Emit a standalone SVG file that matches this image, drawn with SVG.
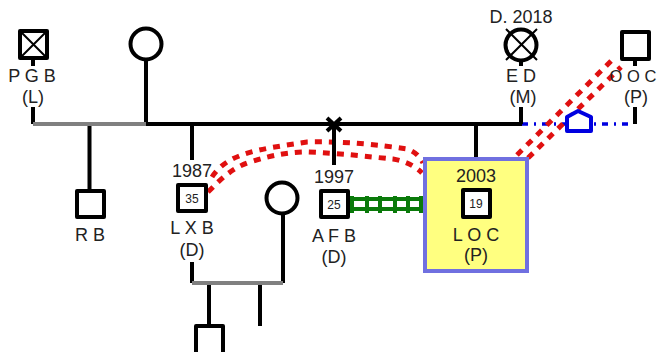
<svg xmlns="http://www.w3.org/2000/svg" width="658" height="352" viewBox="0 0 658 352">
<style>
text{font-family:"Liberation Sans",Arial,sans-serif;font-size:18px;fill:#222;text-anchor:middle}
.n{font-size:12px}
.o{font-size:16.500px}
.l{fill:none;stroke:#000;stroke-width:4}
.g{fill:none;stroke:#808080;stroke-width:4}
.s{fill:#fff;stroke:#000;stroke-width:4;stroke-linejoin:round}
.t{fill:none;stroke:#000;stroke-width:2}
.r{fill:none;stroke:#e01010;stroke-width:5;stroke-dasharray:7 7}
.gr{fill:none;stroke:#0a7a0a;stroke-width:4}
</style>
<g id="connectors">
<path d="M522 124H632" fill="none" stroke="#0000e0" stroke-width="3.500" stroke-dasharray="6 6 2 6"/>
<path class="r" d="M517 155L613 59M528 158L621 67"/>
<path class="r" d="M212 177C228 152 262 149 307 142C345 141 380 145 407 149C416 152 420 157 423 163"/>
<path class="r" d="M208 192C222 178 232 168 250 162C272 155 290 152 307 152C340 153 370 157 393 159C405 161 415 166 422 173"/>
<path class="gr" d="M349 199H423M349 209H423M352 196V213M367 196V213M380 196V213M395 196V213M408 196V213M421 196V213"/>
<path class="l" d="M146 124H522M33 60V66M33 107V124M89.500 124V190M146 60V124M192 124V160M334 124V165M476 124V157M521 60V66M521 107V124M635 60V66M635 107V124M192 262V283M283 212V283M209 283V326M260 283V326"/>
<path class="g" d="M33 124H146M192 283H283"/>
<path class="l" d="M327 118L341 131M341 118L327 131"/>
</g>
<g id="PGB">
<rect class="s" x="20" y="31" width="27" height="27"/>
<path class="t" d="M21 32L46 57M46 32L21 57"/>
<text x="32" y="82">P G B</text><text x="33" y="103">(L)</text>
</g>
<g id="mother"><circle class="s" cx="146" cy="44" r="15.500"/></g>
<g id="RB">
<rect class="s" x="77" y="191" width="27" height="26"/>
<text x="90" y="241">R B</text>
</g>
<g id="LXB">
<text x="192" y="177">1987</text>
<rect class="s" x="178" y="185" width="28" height="26"/>
<text class="n" x="192" y="203">35</text>
<text x="192" y="234">L X B</text><text x="192" y="256">(D)</text>
</g>
<g id="partner"><circle class="s" cx="282" cy="198" r="15.500"/></g>
<g id="child"><rect class="s" x="196" y="326" width="27" height="30"/></g>
<g id="AFB">
<text x="334" y="183">1997</text>
<rect class="s" x="321" y="191" width="27" height="26"/>
<text class="n" x="334" y="209">25</text>
<text x="334" y="242">A F B</text><text x="334" y="263">(D)</text>
</g>
<g id="LOC">
<rect x="425" y="159" width="102" height="112" fill="#ffff80" stroke="#7070e0" stroke-width="4"/>
<text x="476" y="182">2003</text>
<rect class="s" x="463" y="190" width="27" height="27"/>
<text class="n" x="476" y="208">19</text>
<text x="476" y="241">L O C</text><text x="476" y="261">(P)</text>
</g>
<g id="ED">
<text x="521" y="23">D. 2018</text>
<circle class="s" cx="521" cy="45" r="15.500"/>
<path class="t" d="M506 29L537 60M537 29L506 60"/>
<text x="521" y="82">E D</text><text x="523" y="103">(M)</text>
</g>
<g id="OOC">
<rect class="s" x="622" y="32" width="27" height="27"/>
<text class="o" x="633" y="82">O O C</text><text x="636" y="103">(P)</text>
</g>
<g id="house"><path d="M567 131H591V117L578 111L567 117Z" fill="#fff" stroke="#0000e0" stroke-width="4" stroke-linejoin="round"/></g>
</svg>
